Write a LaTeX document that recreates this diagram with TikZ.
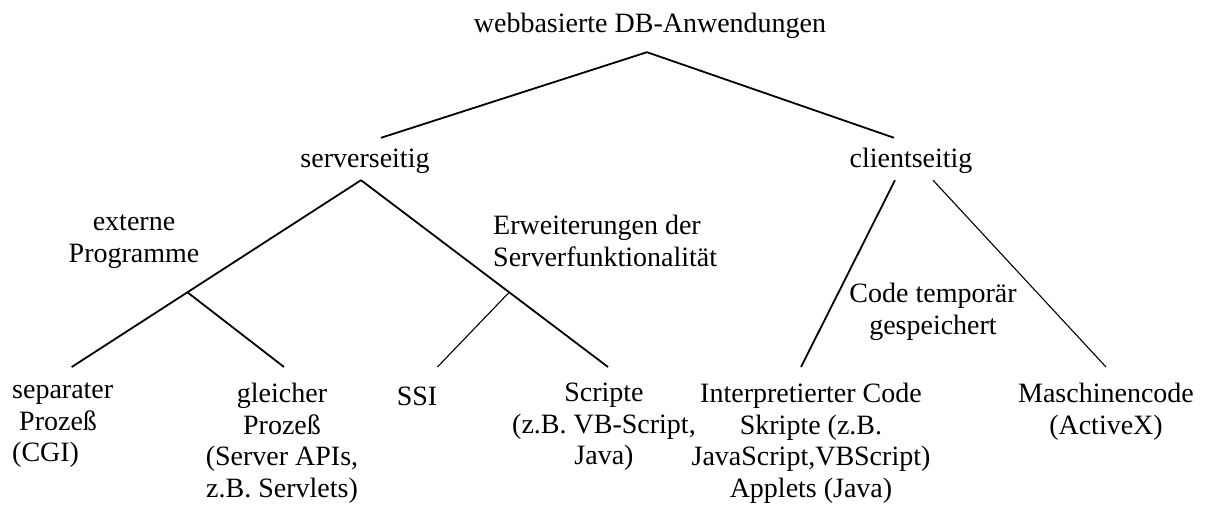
\documentclass[tikz,border=0pt]{standalone}
\usepackage{fontspec}
\setmainfont{Liberation Serif}
\newcommand{\tmfont}{\fontsize{28pt}{31.5pt}\selectfont}

\tikzset{
  head/.style={font=\tmfont, anchor=base, text height=20pt, text depth=2pt, inner xsep=0pt, inner ysep=10pt},
  leaf/.style={font=\tmfont, align=center, anchor=north, inner xsep=0pt, inner ysep=16pt, execute at begin node=\strut},
  note/.style={font=\tmfont, align=center, anchor=north, inner sep=0pt, execute at begin node=\strut},
  thickline/.style={line width=1.8pt},
  thinline/.style={line width=1.1pt}
}

\begin{document}
\begin{tikzpicture}[x=1pt,y=-1pt]
	\useasboundingbox (0,0) rectangle (1207,510);
	
	% upper levels
	\node[head, inner ysep=17pt] (root) at (650,33) {webbasierte DB-Anwendungen};
	\node[head] (server) at (365,168) {serverseitig};
	\node[head] (client) at (911,168) {clientseitig};
	
	% leaves (first baseline at 405)
	\node[leaf, align=left, anchor=north west] (sep) at (12,367) {separater\\\ Prozeß\\(CGI)};
	\node[leaf] (same) at (282,367) {gleicher\\Prozeß\\(Server APIs,\\z.B. Servlets)};
	\node[leaf] (ssi) at (417,367) {SSI};
	\node[leaf] (script) at (604,367) {Scripte\\(z.B. VB-Script,\\Java)};
	\node[leaf] (interp) at (811,367) {Interpretierter Code\\Skripte (z.B.\\JavaScript,VBScript)\\Applets (Java)};
	\node[leaf] (machine) at (1106,367) {Maschinencode\\(ActiveX)};
	
	% branch labels
	\node[note] (extprog) at (134,215) {externe\\Programme};
	\node[note, align=left, anchor=north west] (extsrv) at (493,215) {Erweiterungen der\\Serverfunktionalität};
	\node[note] (tmpcode) at (933,283) {Code temporär\\gespeichert};
	
	\draw[thickline] ([xshift=-3pt]root.south) -- ([xshift=16pt]server.north);
	\draw[thickline] ([xshift=-3pt]root.south) -- ([xshift=-17pt]client.north);
	
	\draw[thickline] ([xshift=-4pt]server.south) -- ([xshift=9pt]sep.north) coordinate[pos=0.6] (progj);
	\draw[thickline] (progj) -- ([xshift=2pt]same.north);
	\draw[thickline] ([xshift=-4pt]server.south) -- ([xshift=4pt]script.north) coordinate[pos=0.6] (extj);
	\draw[thinline] (extj) -- (ssi.north east);
	
	\draw[thickline] ([xshift=-16pt]client.south) -- ([xshift=-10pt]interp.north);
	\draw[thinline] ([xshift=22pt]client.south) -- (machine.north);
\end{tikzpicture}
\end{document}
